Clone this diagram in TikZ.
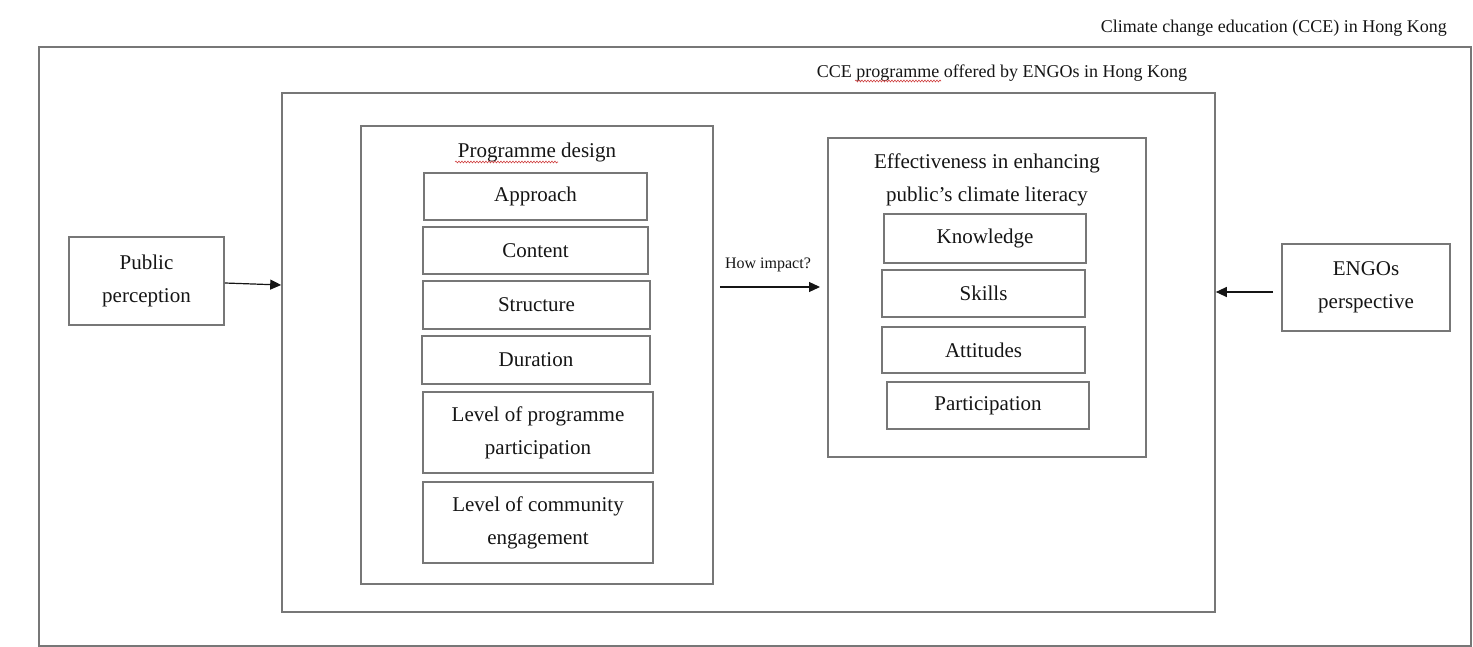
\documentclass[tikz,border=0pt]{standalone}
\usepackage{fontspec}
\setmainfont{Liberation Serif}
\usepackage{tikz}
\usetikzlibrary{arrows.meta,decorations.pathmorphing}
\definecolor{linegray}{HTML}{777777}
\definecolor{inkgray}{HTML}{151515}
\definecolor{spellred}{HTML}{D04040}

\begin{document}
\begin{tikzpicture}[x=1pt,y=-1pt]
    \tikzstyle{every node}+=[inner sep=0pt, text=inkgray]
    \tikzstyle{box}=[draw=linegray, line width=1.6pt, align=center, font=\fontsize{21}{33}\selectfont]
    \tikzstyle{lbl}=[font=\fontsize{18}{22}\selectfont]
    \tikzstyle{arr}=[draw=inkgray, line width=1.2pt, -{Triangle[length=11pt,width=10pt]}]
    \tikzstyle{squiggle}=[draw=spellred, line width=0.6pt, decorate, decoration={snake, amplitude=0.9pt, segment length=3pt}]
    \useasboundingbox (0,0) rectangle (1473,647);
    \node [box, minimum width=1432pt, minimum height=599pt] (cce) at (755,346.5) {};
    \node [lbl, anchor=east] (cceT) at (1447,28) {Climate change education (CCE) in Hong Kong};
    \node [box, minimum width=933pt, minimum height=519pt] (prog) at (748.5,352.5) {};
    \node [lbl] (progT) at (1002,73) {CCE programme offered by ENGOs in Hong Kong};
    \node [box, minimum width=352pt, minimum height=458pt] (design) at (537,355) {};
    \node [box, draw=none] (designT) at (537,152) {Programme design};
    \node [box, minimum width=223pt, minimum height=47pt] (appr) at (535.5,196.5) {Approach};
    \node [box, minimum width=225pt, minimum height=47pt] (cont) at (535.5,250.5) {Content};
    \node [box, minimum width=227pt, minimum height=48pt] (struc) at (536.5,305) {Structure};
    \node [box, minimum width=228pt, minimum height=48pt] (dur) at (536,360) {Duration};
    \node [box, minimum width=230pt, minimum height=81pt] (lvlprog) at (538,432.5) {Level of programme\\participation};
    \node [box, minimum width=230pt, minimum height=81pt] (lvlcomm) at (538,522.5) {Level of community\\engagement};
    \node [box, minimum width=318pt, minimum height=319pt] (eff) at (987,297.5) {};
    \node [box, draw=none] (effT) at (987,180) {Effectiveness in enhancing\\public’s climate literacy};
    \node [box, minimum width=202pt, minimum height=49pt] (know) at (985,238.5) {Knowledge};
    \node [box, minimum width=203pt, minimum height=47pt] (skill) at (983.5,293.5) {Skills};
    \node [box, minimum width=203pt, minimum height=46pt] (att) at (983.5,350) {Attitudes};
    \node [box, minimum width=202pt, minimum height=47pt] (part) at (988,405.5) {Participation};
    \node [box, minimum width=155pt, minimum height=88pt] (pub) at (146.5,281) {Public\\perception};
    \node [box, minimum width=168pt, minimum height=87pt] (engo) at (1366,287.5) {ENGOs\\perspective};
    \coordinate (imp) at (828,287);
    \draw [arr] (pub.east) ++(0,2) -- (prog.west |- 0,285);
    \draw [arr] (engo.west) ++(-8,4.5) -- (prog.east |- 0,292);
    \draw [arr, shorten <=6pt, shorten >=8pt] (imp -| design.east) -- (imp);
    \node [font=\fontsize{16}{20}\selectfont] (impT) at (768,265) {How impact?};
    \draw [squiggle] (455,162) -- (558,162);
    \draw [squiggle] (855,81) -- (941,81);
\end{tikzpicture}
\end{document}
